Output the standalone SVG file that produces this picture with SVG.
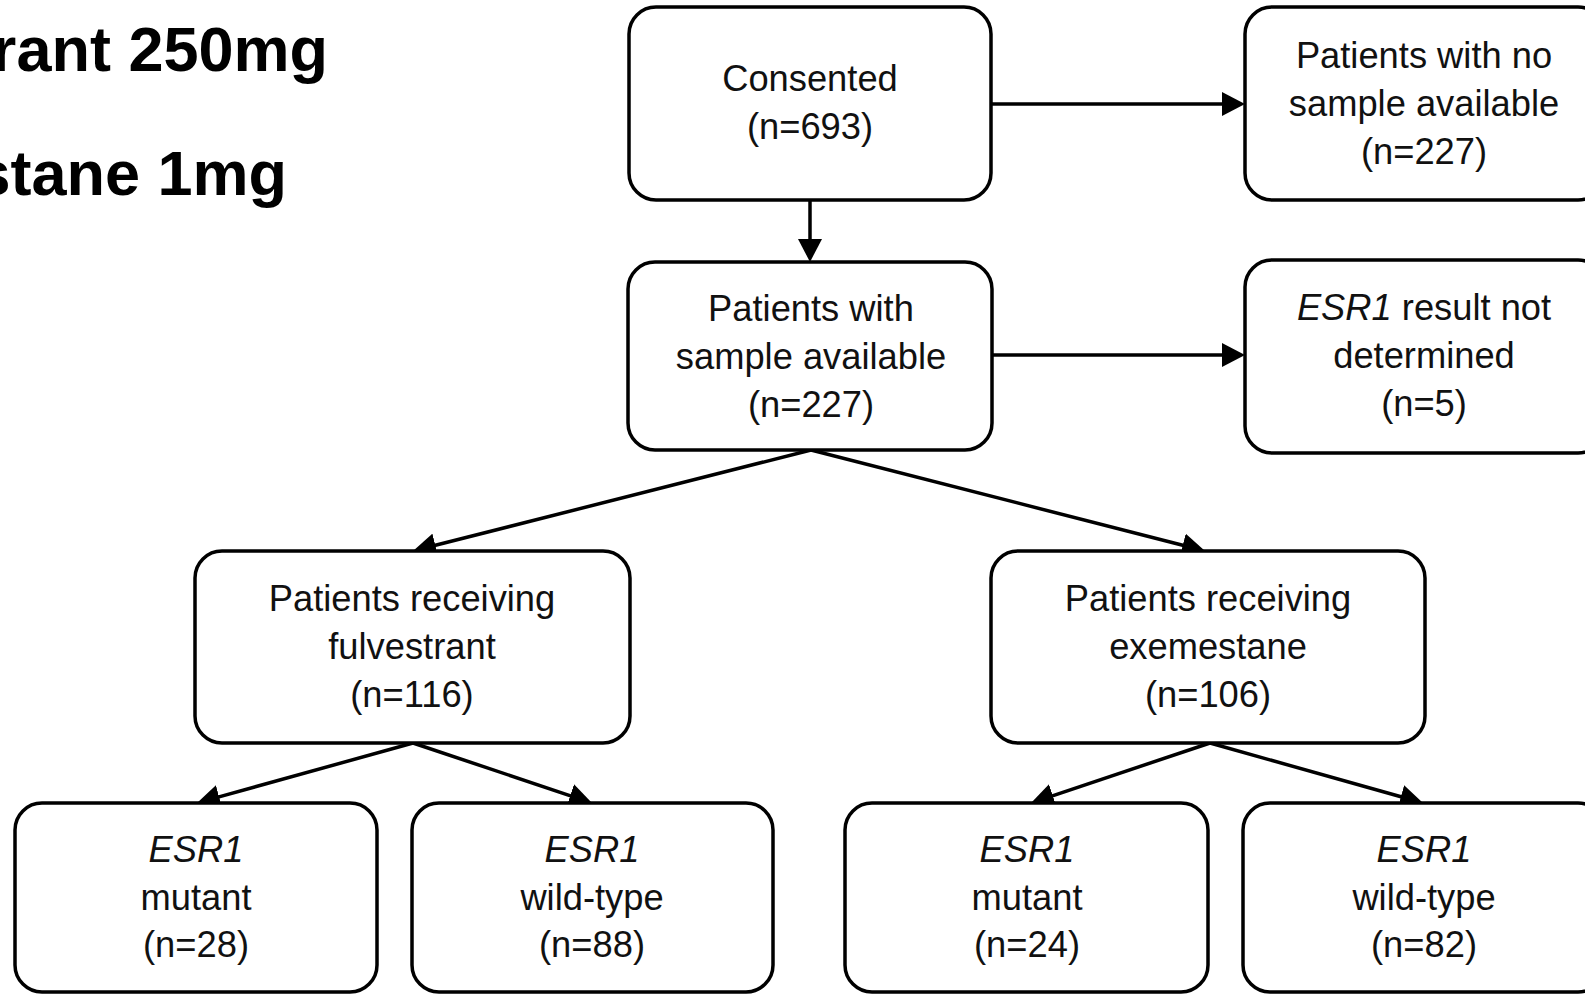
<svg xmlns="http://www.w3.org/2000/svg" width="1585" height="994" viewBox="0 0 1585 994">
  <style>
    .box { fill: #ffffff; stroke: #000000; stroke-width: 3.5; }
    .lbl { font-family: "Liberation Sans", Arial, sans-serif; font-size: 36.3px; fill: #111111; text-anchor: middle; }
    .gene { font-style: italic; }
    .arm { font-family: "Liberation Sans", Arial, sans-serif; font-size: 63px; font-weight: bold; fill: #000000; text-anchor: end; }
    .edge { fill: none; stroke: #000000; stroke-width: 3.5; marker-end: url(#head); }
  </style>
  <defs>
    <marker id="head" markerUnits="userSpaceOnUse" markerWidth="24" markerHeight="24" refX="2" refY="12" orient="auto">
      <path d="M0,0 L23,12 L0,24 Z" fill="#000000"/>
    </marker>
  </defs>

  <rect x="0" y="0" width="1585" height="994" fill="#ffffff"/>

  <!-- treatment arm headings (running off the left edge) -->
  <g id="arm-labels">
    <text class="arm" x="328" y="71">rant 250mg</text>
    <text class="arm" x="287" y="195">stane 1mg</text>
  </g>

  <!-- connectors -->
  <g id="connectors">
    <path class="edge" d="M810,200 L810,241"/>
    <path class="edge" d="M991,104 L1224,104"/>
    <path class="edge" d="M992,355 L1224,355"/>
    <path class="edge" d="M811,450 L433.4,545.8"/>
    <path class="edge" d="M811,450 L1184.7,545.8"/>
    <path class="edge" d="M413,743 L217.2,797.4"/>
    <path class="edge" d="M413,743 L572.1,796.3"/>
    <path class="edge" d="M1210,743 L1050.9,796.3"/>
    <path class="edge" d="M1210,743 L1402.8,797.3"/>
  </g>

  <g id="consented">
    <rect class="box" x="629" y="7" width="362" height="193" rx="27"/>
    <text class="lbl" x="810" y="91">Consented</text>
    <text class="lbl" x="810" y="139">(n=693)</text>
  </g>

  <g id="no-sample">
    <rect class="box" x="1245" y="7" width="360" height="193" rx="27"/>
    <text class="lbl" x="1424" y="68">Patients with no</text>
    <text class="lbl" x="1424" y="116">sample available</text>
    <text class="lbl" x="1424" y="164">(n=227)</text>
  </g>

  <g id="sample-available">
    <rect class="box" x="628" y="262" width="364" height="188" rx="27"/>
    <text class="lbl" x="811" y="321">Patients with</text>
    <text class="lbl" x="811" y="369">sample available</text>
    <text class="lbl" x="811" y="417">(n=227)</text>
  </g>

  <g id="not-determined">
    <rect class="box" x="1245" y="260" width="360" height="193" rx="27"/>
    <text class="lbl" x="1424" y="320"><tspan class="gene">ESR1</tspan> result not</text>
    <text class="lbl" x="1424" y="368">determined</text>
    <text class="lbl" x="1424" y="416">(n=5)</text>
  </g>

  <g id="fulvestrant">
    <rect class="box" x="195" y="551" width="435" height="192" rx="27"/>
    <text class="lbl" x="412" y="611">Patients receiving</text>
    <text class="lbl" x="412" y="659">fulvestrant</text>
    <text class="lbl" x="412" y="707">(n=116)</text>
  </g>

  <g id="exemestane">
    <rect class="box" x="991" y="551" width="434" height="192" rx="27"/>
    <text class="lbl" x="1208" y="611">Patients receiving</text>
    <text class="lbl" x="1208" y="659">exemestane</text>
    <text class="lbl" x="1208" y="707">(n=106)</text>
  </g>

  <g id="fulv-mutant">
    <rect class="box" x="15" y="803" width="362" height="189" rx="27"/>
    <text class="lbl gene" x="196" y="862">ESR1</text>
    <text class="lbl" x="196" y="910">mutant</text>
    <text class="lbl" x="196" y="957">(n=28)</text>
  </g>

  <g id="fulv-wildtype">
    <rect class="box" x="412" y="803" width="361" height="189" rx="27"/>
    <text class="lbl gene" x="592" y="862">ESR1</text>
    <text class="lbl" x="592" y="910">wild-type</text>
    <text class="lbl" x="592" y="957">(n=88)</text>
  </g>

  <g id="exem-mutant">
    <rect class="box" x="845" y="803" width="363" height="189" rx="27"/>
    <text class="lbl gene" x="1027" y="862">ESR1</text>
    <text class="lbl" x="1027" y="910">mutant</text>
    <text class="lbl" x="1027" y="957">(n=24)</text>
  </g>

  <g id="exem-wildtype">
    <rect class="box" x="1243" y="803" width="362" height="189" rx="27"/>
    <text class="lbl gene" x="1424" y="862">ESR1</text>
    <text class="lbl" x="1424" y="910">wild-type</text>
    <text class="lbl" x="1424" y="957">(n=82)</text>
  </g>
</svg>
